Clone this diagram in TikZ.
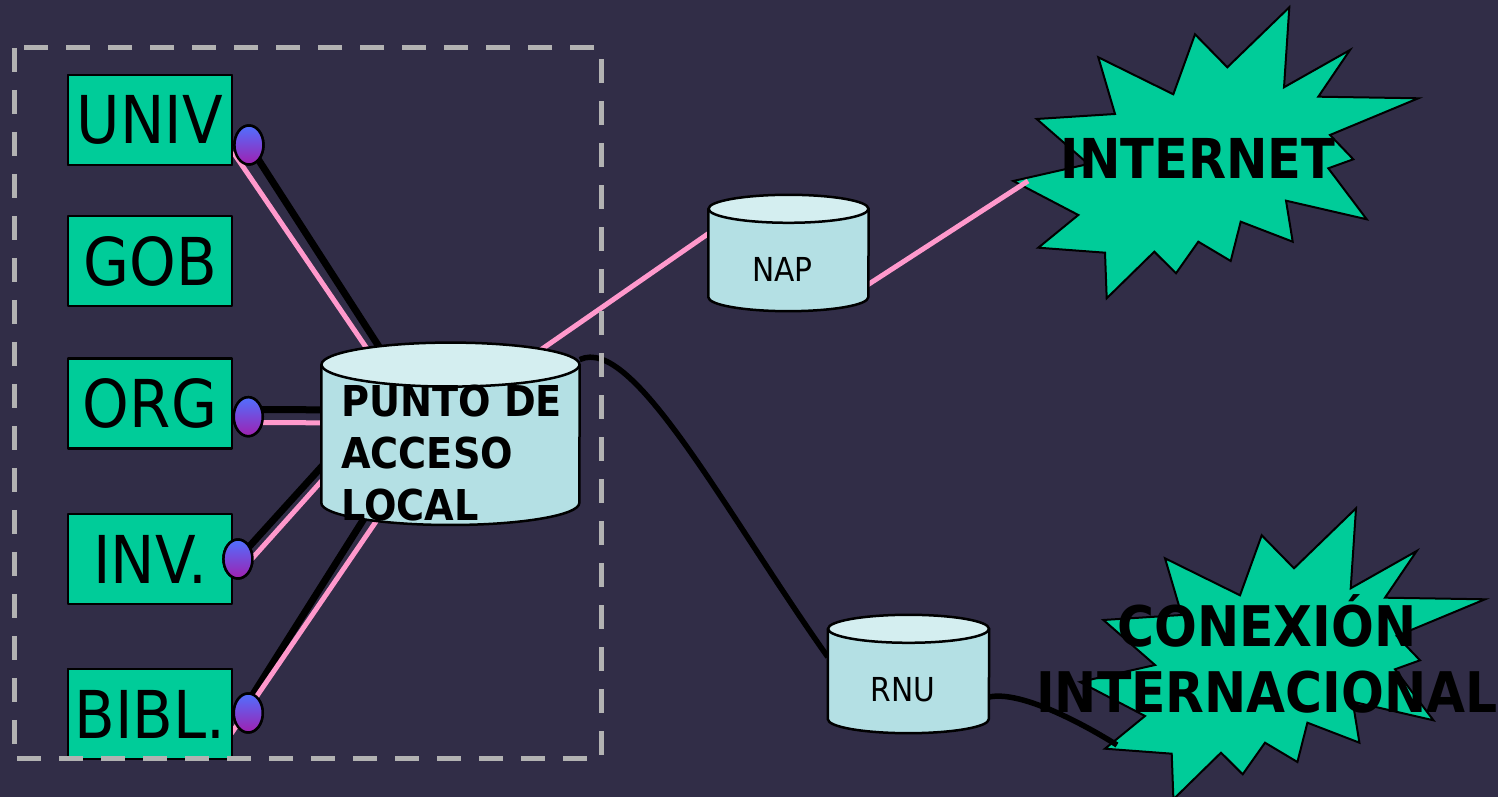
\documentclass[tikz,border=0pt]{standalone}
\usepackage{fontspec}
\setmainfont{DejaVu Sans}[FakeStretch=0.9]
\usetikzlibrary{shapes.geometric}

\definecolor{bgnavy}{RGB}{49,45,71}
\definecolor{boxgreen}{RGB}{0,204,153}
\definecolor{drumside}{RGB}{180,224,228}
\definecolor{drumtop}{RGB}{212,238,240}
\definecolor{cablepink}{RGB}{255,153,204}
\definecolor{framegray}{RGB}{178,178,178}
\definecolor{plugtop}{RGB}{80,112,255}
\definecolor{plugbot}{RGB}{160,32,176}

\tikzset{
  unitbox/.style={draw=black,line width=2.5pt,fill=boxgreen,minimum width=164pt,minimum height=90pt,inner sep=0pt,font=\fontsize{66}{79}\selectfont},
  plug/.style={ellipse,draw=black,line width=2.5pt,top color=plugtop,bottom color=plugbot,minimum width=29pt,minimum height=39pt,inner sep=0pt},
  drumbox/.style={inner sep=0pt},
  wire/.style={line width=7pt,black},
  pinkwire/.style={line width=5pt,cablepink},
  burst/.style={draw=black,line width=2pt,fill=boxgreen,line join=miter},
  label/.style={inner sep=0pt,text=black}
}

% node name, half width, lid radius
\newcommand\drum[3]{%
  \draw[line width=2.5pt,fill=drumside] ([yshift=-#3]#1.north west) -- ([yshift=#3]#1.south west)
    arc[start angle=180,end angle=360,x radius=#2,y radius=#3] -- ([yshift=-#3]#1.north east) -- cycle;
  \draw[line width=2.5pt,fill=drumtop] ([yshift=-#3]#1.north) ellipse[x radius=#2,y radius=#3];
}

\newcommand\burstpath{(1289.3,789.7) -- (1284,709.7) -- (1350,747) -- (1318.3,700.3) -- (1418.3,698.7)
  -- (1330,662) -- (1353.3,637.7) -- (1328.3,628.7) -- (1366.7,577.7) -- (1286,596.3) -- (1292.7,555.3)
  -- (1240.7,575.3) -- (1230.7,536) -- (1198.3,555.3) -- (1176,523.7) -- (1154.3,545.3) -- (1106.7,498.7)
  -- (1105,544.3) -- (1038.3,549.3) -- (1078.3,582) -- (1013.3,616) -- (1088.3,633) -- (1036.7,678)
  -- (1115,683) -- (1098.3,739.7) -- (1173.3,702.7) -- (1195,762.7) -- (1227.3,729.7) -- cycle}

\begin{document}
\begin{tikzpicture}[x=1pt,y=1pt,line join=round]
  \useasboundingbox (0,0) rectangle (1498,797);
  \fill[bgnavy] (0,0) rectangle (1498,797);

  \draw[burst] \burstpath;
  \draw[burst,shift={(66.7,-501)}] \burstpath;
  \coordinate (inetspike) at (1028,616);
  \coordinate (intlspike) at (1117,52);

  \node[unitbox] (univ) at (150,677) {UNIV};
  \node[unitbox] (gob) at (150,536) {GOB};
  \node[unitbox] (org) at (150,393.5) {ORG};
  \node[unitbox] (inv) at (150,238) {INV.};
  \node[unitbox] (bibl) at (150,83) {BIBL.};

  \node[drumbox,minimum width=258pt,minimum height=182pt] (pal) at (450.5,363.2) {};
  \node[drumbox,minimum width=160pt,minimum height=116pt] (nap) at (788.5,544) {};
  \node[drumbox,minimum width=161pt,minimum height=118pt] (rnu) at (908.5,123) {};

  \path (univ.east) ++(15.7,-25) node[plug] (univo) {};
  \path (org.east) ++(15,-13.2) node[plug] (orgo) {};
  \path (inv.east) ++(4.7,0) node[plug] (invo) {};
  \path (bibl.east) ++(15,1) node[plug] (bibo) {};

  \draw[wire] (univo.center) -- ([xshift=-65,yshift=77]pal.center);
  \draw[pinkwire] ([xshift=-16,yshift=-7]univo.center) -- ([xshift=-78,yshift=77]pal.center);
  \draw[wire] ([yshift=7]orgo.center) -- ([xshift=-100,yshift=24]pal.center);
  \draw[pinkwire] ([yshift=-6]orgo.center) -- ([xshift=-100,yshift=11]pal.center);
  \draw[wire] (invo.center) -- ([xshift=-105,yshift=-6.5]pal.center);
  \draw[pinkwire] ([xshift=3,yshift=-12]invo.center) -- ([xshift=-105,yshift=-20.5]pal.center);
  \draw[wire] ([xshift=-7]bibo.center) -- ([xshift=-73,yshift=-63.5]pal.center);
  \draw[pinkwire] ([xshift=-17,yshift=-20.6]bibo.center) -- ([xshift=-58,yshift=-63.5]pal.center);

  \draw[pinkwire] ([xshift=50,yshift=56]pal.center) -- ([xshift=-49,yshift=41]nap.center);
  \draw[pinkwire] ([xshift=61.5,yshift=-43.3]nap.center) -- (inetspike);
  \draw[wire,line width=5.5pt] ([yshift=-17]pal.north east) .. controls +(53,25) and +(-104,147) .. ([yshift=17]rnu.west);
  \draw[wire,line width=5.5pt] ([yshift=-23]rnu.east) .. controls +(28,6) and +(-45,28) .. (intlspike);

  \drum{pal}{129pt}{22pt}
  \drum{nap}{80pt}{14pt}
  \drum{rnu}{80.5pt}{14pt}

  \node[plug] at (univo) {};
  \node[plug] at (orgo) {};
  \node[plug] at (invo) {};
  \node[plug] at (bibo) {};
  \node[unitbox] at (univ) {UNIV};
  \node[unitbox] at (bibl) {BIBL.};

  \draw[framegray,line width=5pt,dash pattern=on 24pt off 18pt,line join=miter] (14,749) rectangle (601,38);

  \node[label,anchor=base west,align=left,font=\bfseries\fontsize{42.5}{52}\selectfont] (paltext) at (341,276) {PUNTO DE\\ACCESO\\LOCAL};
  \node[label,anchor=base,font=\fontsize{33}{40}\selectfont] (naptext) at (782.5,515) {NAP};
  \node[label,anchor=base,font=\fontsize{33}{40}\selectfont] (rnutext) at (903,95.5) {RNU};
  \node[label,anchor=base,font=\bfseries\fontsize{55}{66}\selectfont] (inet) at (1198,618) {INTERNET};
  \node[label,anchor=base,align=center,font=\bfseries\fontsize{56}{66}\selectfont] (intl) at (1267,84) {CONEXIÓN\\INTERNACIONAL};
\end{tikzpicture}
\end{document}
